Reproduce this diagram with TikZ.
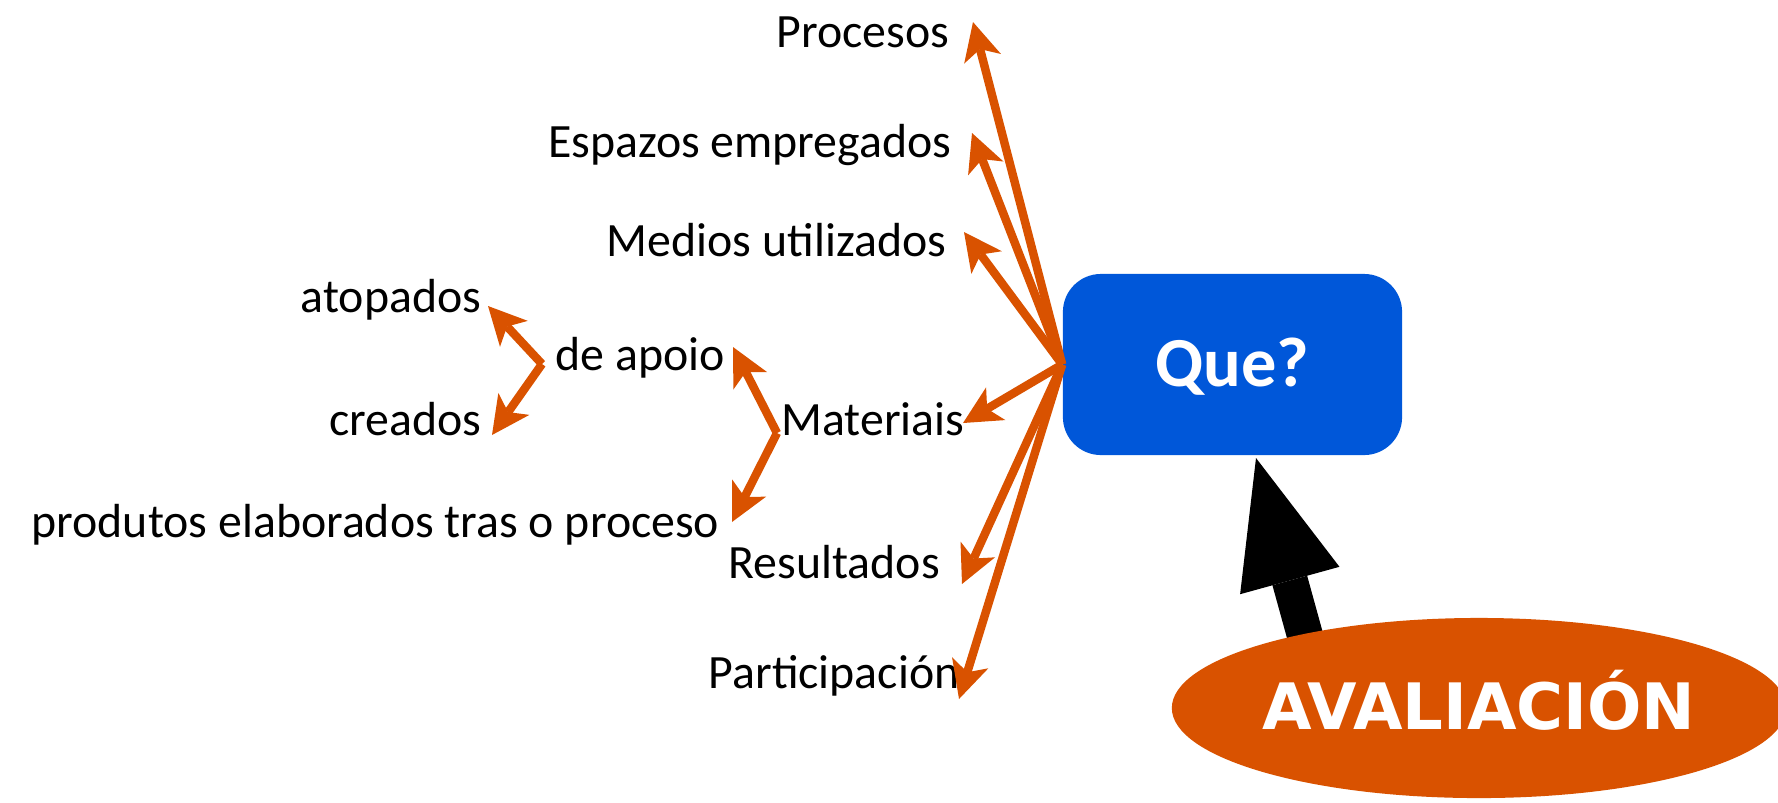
\documentclass[tikz,border=0pt]{standalone}
\usepackage{fontspec}
\setmainfont{Carlito}
\newfontfamily\avalfont{DejaVu Sans}
\usepackage{tikz}
\usetikzlibrary{arrows.meta,shapes.geometric,positioning}

\definecolor{avorange}{RGB}{217,82,0}
\definecolor{queblue}{RGB}{0,87,217}

\tikzset{
  branch/.style={avorange, line width=2.4pt, -{Stealth[length=0.38cm,width=0.38cm,inset=0.1cm,line width=0pt]}},
  lbl/.style={font=\fontsize{13.6}{16}\selectfont, inner sep=0pt},
  quebox/.style={fill=queblue, rounded corners=0.38cm, minimum width=3.39cm, minimum height=1.81cm,
    inner sep=0pt, text=white, font=\fontsize{20}{22}\selectfont\bfseries, text height=0.43cm, text depth=0pt},
  avalell/.style={ellipse, fill=avorange, minimum width=6.14cm, minimum height=1.80cm,
    inner sep=0pt, text=white, font=\avalfont\bfseries\fontsize{18.2}{20}\selectfont, text height=0.43cm, text depth=0pt},
}

\begin{document}
\begin{tikzpicture}[x=0.01cm, y=-0.01cm]
\useasboundingbox (0,0) rectangle (1778,802);

\coordinate (queTip) at (1256,458);
\coordinate (avalTail) at (1320,690);
\draw[line width=0.36cm, -{Triangle[length=1.27cm,width=1.03cm,line width=0pt]}] (avalTail) -- (queTip);

\node[avalell] (aval) at (1479,708) {AVALIACIÓN};
\node[quebox] (que) at (1232.5,364.5) {Que?};

\node[lbl, anchor=base east] (proc) at (950,47) {Procesos};
\node[lbl, anchor=base east] (esp) at (952,157) {Espazos empregados};
\node[lbl, anchor=base east] (med) at (947,256) {Medios utilizados};
\node[lbl, anchor=base east] (mat) at (965,435) {Materiais};
\node[lbl, anchor=base west] (res) at (728,578) {Resultados};
\node[lbl, anchor=base west] (part) at (708,688) {Participación};

\node[lbl, anchor=base west] (apoio) at (555,370) {de apoio};
\node[lbl, anchor=base east] (prod) at (720,537) {produtos elaborados tras o proceso};
\node[lbl, anchor=base east] (atop) at (482,312) {atopados};
\node[lbl, anchor=base east] (crea) at (482,435) {creados};

\coordinate (tProc) at (973,22);
\coordinate (tEsp) at (972,133);
\coordinate (tMed) at (964,232);
\coordinate (tMat) at (963,423);
\coordinate (tRes) at (962,584);
\coordinate (tPart) at (959,699);

\draw[branch] (que.west) -- (tProc);
\draw[branch] (que.west) -- (tEsp);
\draw[branch] (que.west) -- (tMed);
\draw[branch] (que.west) -- (tMat);
\draw[branch] (que.west) -- (tRes);
\draw[branch] (que.west) -- (tPart);

\coordinate (matL) at (777,433);
\coordinate (tApoio) at (733,347);
\coordinate (tProd) at (732,522);
\draw[branch] (matL) -- (tApoio);
\draw[branch] (matL) -- (tProd);

\coordinate (apoioL) at (542,364);
\coordinate (tAtop) at (488,306);
\coordinate (tCrea) at (492,435);
\draw[branch] (apoioL) -- (tAtop);
\draw[branch] (apoioL) -- (tCrea);

\end{tikzpicture}
\end{document}
